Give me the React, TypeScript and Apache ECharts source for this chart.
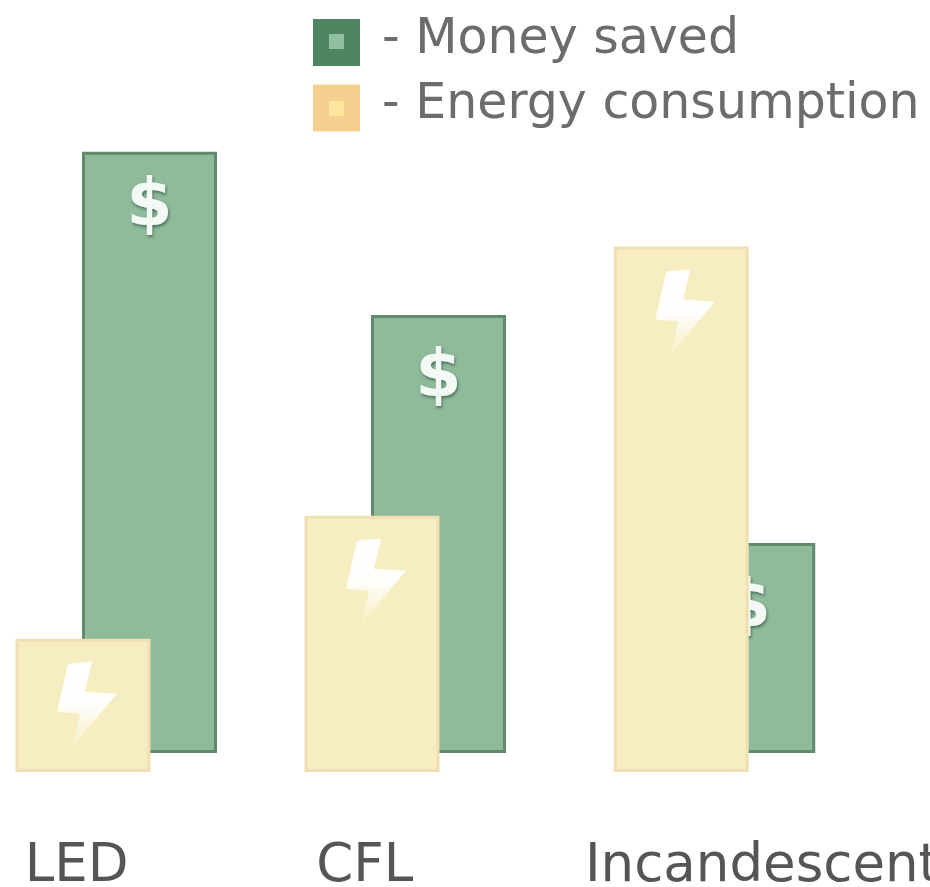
import React, { useEffect, useRef } from "react";
import * as echarts from "echarts";

const categories = ["LED", "CFL", "Incandescent"];
const slots = [0, 1, 2.07];
const labelSlots = [-0.022, 0.975, 2.35];
const moneySaved = [100.2, 73, 35];
const energyConsumption = [22.2, 42.7, 87.6];
const moneyName = "- Money saved";
const energyName = "- Energy consumption";

const FONT = "DejaVu Sans";
const SCALE_Y = 6;
const boltShape = [[-15, 25], [9, 23], [2, 53], [34, 55], [-10, 107], [-3, 75], [-26, 73]];
const dollarDistances = [18, 25, 27];

export default function App() {
  const ref = useRef<HTMLDivElement>(null);
  useEffect(() => {
    const chart = echarts.init(ref.current!, undefined, { renderer: "svg" });
    const xBase = { type: "value", min: -0.25, max: 2.6, axisLine: { show: false }, axisTick: { show: false }, splitLine: { show: false } };
    const yBase = { type: "value", min: 0, max: 110, show: false };
    chart.setOption({
      animation: false,
      backgroundColor: "#ffffff",
      grid: [
        { left: 77.25, width: 823.65, top: 753 - 110 * SCALE_Y, height: 110 * SCALE_Y, outerBoundsMode: "none" },
        { left: 10.75, width: 823.65, top: 772 - 110 * SCALE_Y, height: 110 * SCALE_Y, outerBoundsMode: "none" },
      ],
      xAxis: [
        { ...xBase, gridIndex: 0, axisLabel: { show: false } },
        {
          ...xBase,
          gridIndex: 1,
          axisLabel: {
            customValues: labelSlots,
            formatter: (v: number) => categories[labelSlots.indexOf(v)] ?? "",
            margin: 68,
            color: "#555555",
            fontFamily: FONT,
            fontSize: 53,
            lineHeight: 44,
            hideOverlap: false,
          },
        },
      ],
      yAxis: [{ ...yBase, gridIndex: 0 }, { ...yBase, gridIndex: 1 }],
      legend: {
        left: 313,
        top: 11.5,
        padding: 0,
        orient: "vertical",
        itemWidth: 47,
        itemHeight: 47,
        itemGap: 7,
        icon: "rect",
        formatter: (name: string) => `{t|${name}}\n{s| }`,
        textStyle: {
          color: "#6c6c6c",
          fontFamily: FONT,
          fontSize: 49,
          padding: [0, 0, 0, 17],
          rich: {
            t: { color: "#6c6c6c", fontFamily: FONT, fontSize: 49, lineHeight: 47 },
            s: { fontFamily: FONT, fontSize: 8, lineHeight: 13 },
          },
        },
        data: [
          { name: moneyName, itemStyle: { color: "#4f8560", borderWidth: 0 } },
          { name: energyName, itemStyle: { color: "#f5d091", borderWidth: 0 } },
        ],
      },
      graphic: [
        { type: "rect", shape: { x: 329, y: 34, width: 15, height: 15 }, style: { fill: "#8fc09f" }, z: 10 },
        { type: "rect", shape: { x: 329, y: 101, width: 15, height: 15 }, style: { fill: "#fbe69b" }, z: 10 },
      ],
      series: [
        {
          type: "bar",
          name: moneyName,
          xAxisIndex: 0,
          yAxisIndex: 0,
          z: 2,
          barWidth: 135,
          itemStyle: { color: "#8fbb9b", borderColor: "#5f8b6c", borderWidth: 3 },
          label: {
            show: true,
            position: "insideTop",
            formatter: "$",
            color: "#f3faf6",
            fontFamily: "DejaVu Sans",
            fontWeight: "bold",
            fontSize: 66,
            textShadowColor: "rgba(40,80,55,0.7)",
            textShadowBlur: 3,
            textShadowOffsetX: 1,
            textShadowOffsetY: 2,
          },
          data: moneySaved.map((v, i) => ({ value: [slots[i], v], label: { distance: dollarDistances[i] } })),
        },
        {
          type: "bar",
          name: energyName,
          xAxisIndex: 1,
          yAxisIndex: 1,
          z: 3,
          barWidth: 135,
          itemStyle: { color: "#f6eec0", borderColor: "#f0dfb2", borderWidth: 3 },
          data: energyConsumption.map((v, i) => [slots[i], v]),
        },
        {
          type: "custom",
          xAxisIndex: 1,
          yAxisIndex: 1,
          z: 4,
          silent: true,
          renderItem: (_p: any, api: any) => {
            const [cx, cy] = api.coord([api.value(0), api.value(1)]);
            return {
              type: "polygon",
              shape: { points: boltShape.map(([dx, dy]) => [cx + dx, cy + dy]) },
              style: {
                fill: new echarts.graphic.LinearGradient(0, 0, 0, 1, [
                  { offset: 0, color: "rgba(255,255,255,1)" },
                  { offset: 0.5, color: "rgba(255,255,255,0.95)" },
                  { offset: 1, color: "rgba(255,255,255,0.1)" },
                ]),
              },
            };
          },
          encode: { x: 0, y: 1 },
          data: energyConsumption.map((v, i) => [slots[i], v]),
        },
      ],
    });
    return () => chart.dispose();
  }, []);
  return <div ref={ref} style={{ position: "absolute", left: 0, top: 0, width: 930, height: 887 }} />;
}
